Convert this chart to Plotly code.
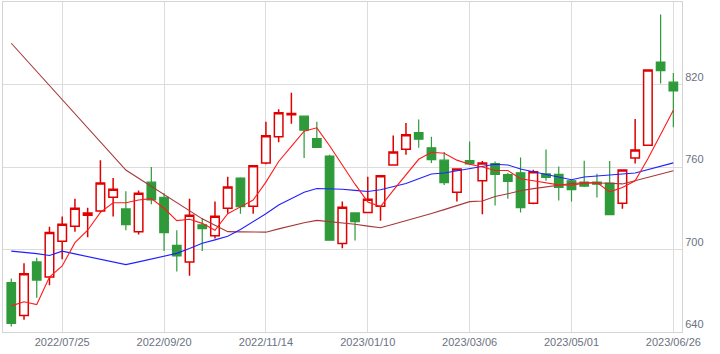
import plotly.graph_objects as go

dates = [
    "2022/06/27", "2022/07/04", "2022/07/11", "2022/07/19", "2022/07/25", "2022/08/01",
    "2022/08/08", "2022/08/15", "2022/08/22", "2022/08/29", "2022/09/05", "2022/09/12",
    "2022/09/20", "2022/09/26", "2022/10/03", "2022/10/11", "2022/10/17", "2022/10/24",
    "2022/10/31", "2022/11/07", "2022/11/14", "2022/11/21", "2022/11/28", "2022/12/05",
    "2022/12/12", "2022/12/19", "2022/12/26", "2023/01/04", "2023/01/10", "2023/01/16",
    "2023/01/23", "2023/01/30", "2023/02/06", "2023/02/13", "2023/02/20", "2023/02/27",
    "2023/03/06", "2023/03/13", "2023/03/20", "2023/03/27", "2023/04/03", "2023/04/10",
    "2023/04/17", "2023/04/24", "2023/05/01", "2023/05/08", "2023/05/15", "2023/05/22",
    "2023/05/29", "2023/06/05", "2023/06/12", "2023/06/19", "2023/06/26",
]

open_ = [676, 652, 691, 680, 706, 717, 725, 728, 738, 729.5, 713, 749, 738, 703, 691, 718,
         710, 730, 752, 731.5, 763, 782, 798, 797, 780.7, 768, 704.4, 726.6, 727, 731.5,
         761.5, 773, 785, 774, 765, 741.7, 764.6, 750, 762.4, 754.4, 755.8, 733.7, 755,
         754.6, 750, 749, 749, 748.3, 733.7, 766.6, 775.8, 836.3, 821.7]
high = [679, 690, 694, 716.5, 724, 737, 730.4, 765, 752, 742.4, 743, 760, 741, 714, 737, 723,
        735, 753, 752.5, 761.5, 793, 802, 814, 797.5, 793, 769, 735, 727, 753, 754,
        783, 792, 794.6, 782, 771, 759, 778.5, 764.4, 764, 755.6, 767, 758, 772.7,
        760.4, 750.5, 764.6, 755.1, 764.4, 758.3, 795, 831, 871, 828.3]
low = [644, 649, 665, 674, 693, 713, 709, 727, 724, 714, 711, 733, 699, 684, 681, 699,
       708, 726, 726, 726, 762, 778, 791.5, 766.5, 774, 706.5, 701, 706.6, 727, 721,
       761, 769, 774, 763, 747, 735, 762, 725.6, 732, 737, 727, 733, 750,
       735.6, 735, 745.5, 737.8, 725, 729.7, 762.6, 775.5, 820.7, 789]
close = [646.3, 682.4, 677.8, 712.4, 718.3, 730, 726.6, 748.3, 743.9, 718, 741, 736.1, 712.2,
         695.3, 725, 715.1, 724.1, 745.4, 731.2, 761, 782.7, 799.5, 799, 786.8, 774.3, 706.8,
         730.7, 720.2, 736.6, 753.6, 771, 783.4, 780.2, 765.3, 748.7, 758.5, 762.2, 763,
         754.6, 749.5, 730.4, 756.6, 752.4, 745.1, 743.6, 746.1, 747.5, 725.3, 757.8, 772.4,
         830.5, 830, 815.3]

ma_short = [659, 662, 660, 680, 688, 705, 714, 727, 734, 734, 736, 737, 730, 721, 722, 719,
            714, 726, 731, 736, 749, 764, 775, 786, 788.5, 775.5, 761.5, 747.5, 734.6, 731.2,
            743, 754.6, 765.6, 770.7, 770, 765, 762, 760, 757.5, 757.5, 751.4, 750, 748.5,
            747, 746.8, 748.3, 748.7, 741.9, 745.1, 750, 766, 784, 801.2]
ma_mid = [698.8, 698, 697, 695.6, 698.8, 696.8, 694.9, 692.9, 691, 689, 691, 693, 695, 697.2,
          700.7, 704.5, 707, 709.6, 714.6, 720, 726, 732.3, 737, 741.7, 744.4, 744.3, 743.8,
          743, 742.2, 743.5, 745.5, 748, 751.5, 754.9, 755.6, 757.2, 758.8, 760.6, 762, 761.5,
          758.5, 756.5, 754.6, 752.6, 750.7, 752.7, 753.6, 754.2, 754.9, 755.6, 758, 760.5, 763]
ma_long = [850, 839.8, 829.5, 819.3, 809, 798.8, 788.5, 778.3, 768, 757.8, 751.8, 745.8, 740,
           733.8, 727.9, 722.3, 717.6, 713, 712.8, 712.7, 712.6, 715, 717.4, 719.4, 721.2,
           720.4, 719.5, 718.4, 717, 715.8, 718.4, 720.9, 723.5, 726.2, 729, 731.9, 734.8,
           735.3, 738.6, 740.5, 742.7, 744.3, 745.5, 746.7, 748, 748.5, 748.6, 748.2, 747.7,
           750, 752.5, 755, 757.3]

tick_dates = ["2022/07/25", "2022/09/20", "2022/11/14", "2023/01/10", "2023/03/06",
              "2023/05/01", "2023/06/26"]
y_ticks = [640, 700, 760, 820, 880]

RED = "#e00000"
GREEN = "#2e9a3a"

fig = go.Figure()
fig.add_trace(go.Candlestick(
    x=dates, open=open_, high=high, low=low, close=close,
    increasing=dict(line=dict(color=RED, width=1.5), fillcolor="white"),
    decreasing=dict(line=dict(color=GREEN, width=1.2), fillcolor=GREEN),
    whiskerwidth=0, showlegend=False, hoverinfo="skip",
))
fig.add_trace(go.Scatter(x=dates, y=ma_long, mode="lines",
                         line=dict(color="#a83838", width=1.1), showlegend=False))
fig.add_trace(go.Scatter(x=dates, y=ma_mid, mode="lines",
                         line=dict(color="#2020ff", width=1.1), showlegend=False))
fig.add_trace(go.Scatter(x=dates, y=ma_short, mode="lines",
                         line=dict(color="#ff1a1a", width=1.1), showlegend=False))

fig.update_layout(
    width=720, height=354,
    margin=dict(l=3, r=38, t=2, b=22),
    paper_bgcolor="white", plot_bgcolor="white",
    boxgap=0.04,
    font=dict(family="Liberation Sans, Arial, sans-serif", size=11, color="#6b7280"),
    xaxis=dict(
        type="category", categoryorder="array", categoryarray=dates,
        range=[-0.65, 52.68],
        tickmode="array", tickvals=tick_dates, ticktext=tick_dates,
        showgrid=True, gridcolor="#dcdcdc", gridwidth=1,
        showline=True, linecolor="#d4d4d4", mirror=True,
        ticks="", rangeslider=dict(visible=False), fixedrange=True,
    ),
    yaxis=dict(
        side="right", range=[640, 880], tickvals=y_ticks,
        ticktext=["640", "700", "760", "820", ""],
        ticklabelposition="outside top",
        showgrid=True, gridcolor="#dcdcdc", gridwidth=1,
        showline=True, linecolor="#d4d4d4", mirror=True,
        ticks="", zeroline=False,
    ),
)

fig.write_html("out.html")
